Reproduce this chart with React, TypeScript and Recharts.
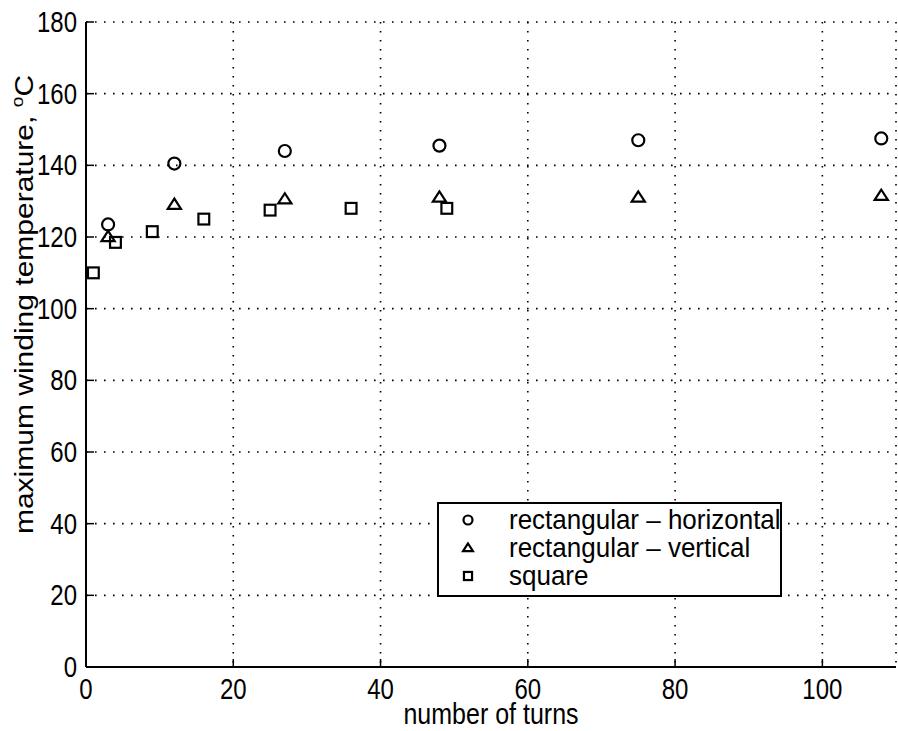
import React from 'react';
import {
  ScatterChart,
  Scatter,
  XAxis,
  YAxis,
  CartesianGrid,
  Legend
} from 'recharts';

// number of turns vs. maximum winding temperature (°C)
const horizontalTurns = [3, 12, 27, 48, 75, 108];
const horizontalTemps = [123.5, 140.5, 144, 145.5, 147, 147.5];

const verticalTurns = [3, 12, 27, 48, 75, 108];
const verticalTemps = [120, 129, 130.5, 131, 131, 131.5];

const squareTurns = [1, 4, 9, 16, 25, 36, 49];
const squareTemps = [110, 118.5, 121.5, 125, 127.5, 128, 128];

const xTicks = [0, 20, 40, 60, 80, 100];
const yTicks = [0, 20, 40, 60, 80, 100, 120, 140, 160, 180];

const FONT = '"Liberation Sans", Arial, Helvetica, sans-serif';
// text is drawn a bit taller than wide, like the rest of the figure
const STRETCH = 1.2;
const TICK_LEN = 8;

const toPoints = (turns: number[], temps: number[]) =>
  turns.map((t, i) => ({ turns: t, temp: temps[i] }));

type MarkerKind = 'circle' | 'triangle' | 'square';

const Marker = ({ kind, cx, cy, s }: { kind: MarkerKind; cx: number; cy: number; s: number }) => {
  const common = { fill: 'none', stroke: '#000', strokeWidth: 2.2 };
  if (kind === 'circle') return <circle cx={cx} cy={cy} r={s * 0.5} {...common} />;
  if (kind === 'square')
    return <rect x={cx - s * 0.45} y={cy - s * 0.45} width={s * 0.9} height={s * 0.9} {...common} />;
  const h = s * 0.85;
  return (
    <polygon
      points={`${cx},${cy - h * 0.6} ${cx - s * 0.55},${cy + h * 0.4} ${cx + s * 0.55},${cy + h * 0.4}`}
      strokeLinejoin="miter"
      {...common}
    />
  );
};

const series: { name: string; kind: MarkerKind; data: { turns: number; temp: number }[] }[] = [
  { name: 'rectangular \u2013 horizontal', kind: 'circle', data: toPoints(horizontalTurns, horizontalTemps) },
  { name: 'rectangular \u2013 vertical', kind: 'triangle', data: toPoints(verticalTurns, verticalTemps) },
  { name: 'square', kind: 'square', data: toPoints(squareTurns, squareTemps) }
];

const StretchText = ({ x, y, anchor, size, stretch = STRETCH, children }: any) => (
  <text
    transform={`translate(${x},${y}) scale(1,${stretch})`}
    x={0}
    y={0}
    textAnchor={anchor}
    fontFamily={FONT}
    fontSize={size}
    fill="#000"
  >
    {children}
  </text>
);

const BottomTick = ({ x, y, payload }: any) => (
  <g>
    <line x1={x} y1={y} x2={x} y2={y - TICK_LEN} stroke="#000" strokeWidth={1.5} />
    <StretchText x={x} y={y + 32} anchor="middle" size={24}>
      {payload.value}
    </StretchText>
  </g>
);

const TopTick = ({ x, y }: any) => (
  <line x1={x} y1={y} x2={x} y2={y + TICK_LEN} stroke="#000" strokeWidth={1.5} />
);

const LeftTick = ({ x, y, payload }: any) => (
  <g>
    <line x1={x} y1={y} x2={x + TICK_LEN} y2={y} stroke="#000" strokeWidth={1.5} />
    <StretchText x={x - 9} y={y + 10} anchor="end" size={24}>
      {payload.value}
    </StretchText>
  </g>
);

const RightTick = ({ x, y }: any) => (
  <line x1={x} y1={y} x2={x - TICK_LEN} y2={y} stroke="#000" strokeWidth={1.5} />
);

const XLabel = ({ viewBox }: any) => (
  <StretchText x={viewBox.x + viewBox.width / 2} y={viewBox.y + 57} anchor="middle" size={25} stretch={1.15}>
    number of turns
  </StretchText>
);

const YLabel = ({ viewBox }: any) => {
  const cx = 33;
  const cy = viewBox.y + viewBox.height / 2 - 40;
  return (
    <text
      transform={`translate(${cx},${cy}) rotate(-90) scale(${STRETCH},1)`}
      textAnchor="middle"
      fontFamily={FONT}
      fontSize={25}
      fill="#000"
    >
      maximum winding temperature,{' '}
      <tspan dy={-10} fontSize={16}>o</tspan>
      <tspan dy={10}>C</tspan>
    </text>
  );
};

const LegendBox = () => (
  <svg width={345} height={95} style={{ display: 'block' }}>
    <rect x={1} y={1} width={343} height={93} fill="#fff" stroke="#000" strokeWidth={2} />
    {series.map((s, i) => (
      <g key={s.name}>
        <Marker kind={s.kind} cx={31} cy={18 + i * 28} s={9} />
        <StretchText x={72} y={27 + i * 28} anchor="start" size={26} stretch={1.08}>
          {s.name}
        </StretchText>
      </g>
    ))}
  </svg>
);

export default function App() {
  return (
    <div style={{ position: 'absolute', left: 0, top: 0, background: '#fff' }}>
      <ScatterChart
        width={898}
        height={731}
        margin={{ top: 22, right: 2, bottom: 4, left: 26 }}
      >
        <CartesianGrid
          stroke="#000"
          strokeWidth={1.6}
          strokeDasharray="1.6 7.4"
          fill="#fff"
        />
        <XAxis
          type="number"
          dataKey="turns"
          domain={[0, 110]}
          ticks={xTicks}
          height={60}
          tickSize={0}
          tickMargin={0}
          tickLine={false}
          axisLine={{ stroke: '#000', strokeWidth: 2 }}
          tick={BottomTick}
          interval={0}
          label={{ content: XLabel }}
        />
        <XAxis
          xAxisId="top"
          orientation="top"
          type="number"
          dataKey="turns"
          domain={[0, 110]}
          ticks={xTicks}
          height={0}
          tickSize={0}
          tickMargin={0}
          tickLine={false}
          axisLine={{ stroke: '#000', strokeWidth: 2.5 }}
          tick={TopTick}
          interval={0}
        />
        <YAxis
          type="number"
          dataKey="temp"
          domain={[0, 180]}
          ticks={yTicks}
          width={60}
          tickSize={0}
          tickMargin={0}
          tickLine={false}
          axisLine={{ stroke: '#000', strokeWidth: 2 }}
          tick={LeftTick}
          interval={0}
          label={{ content: YLabel }}
        />
        <YAxis
          yAxisId="right"
          orientation="right"
          type="number"
          dataKey="temp"
          domain={[0, 180]}
          ticks={yTicks}
          width={0}
          tickSize={0}
          tickMargin={0}
          tickLine={false}
          axisLine={{ stroke: '#000', strokeWidth: 2 }}
          tick={RightTick}
          interval={0}
        />
        {series.map((s) => (
          <Scatter
            key={s.name}
            name={s.name}
            data={s.data}
            isAnimationActive={false}
            shape={(p: any) => <Marker kind={s.kind} cx={p.cx} cy={p.cy} s={12} />}
          />
        ))}
        {/* middle/center placement keeps the legend from reserving plot space */}
        <Legend
          layout="horizontal"
          align="center"
          verticalAlign="middle"
          content={LegendBox}
          wrapperStyle={{ position: 'absolute', left: 437, top: 502, width: 345, height: 95 }}
        />
      </ScatterChart>
    </div>
  );
}
